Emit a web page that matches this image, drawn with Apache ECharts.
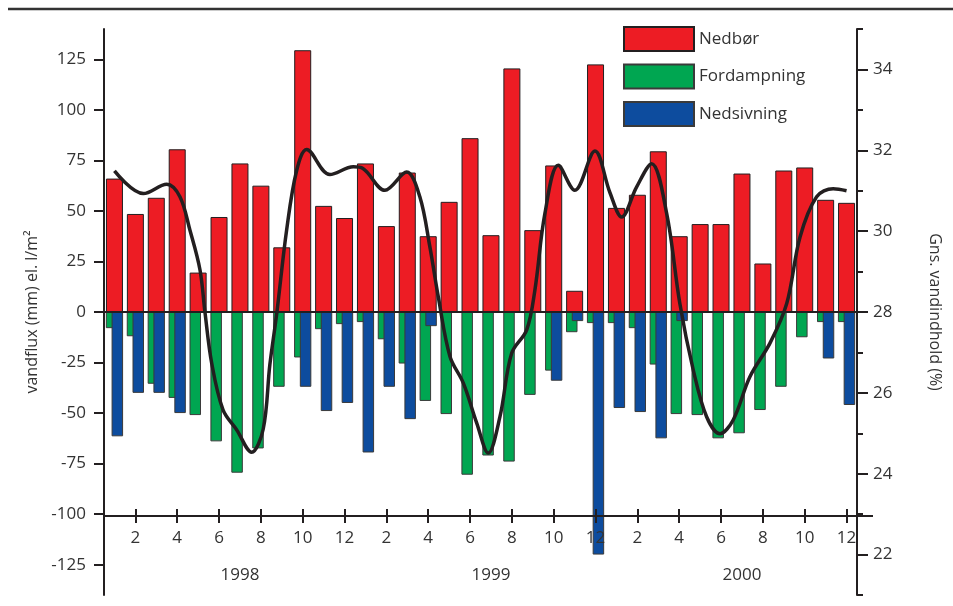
<!DOCTYPE html>
<html>
<head>
<meta charset="utf-8">
<script src="https://cdn.jsdelivr.net/npm/echarts@6/dist/echarts.min.js"></script>
<style>html,body{margin:0;padding:0;background:#fff;}#chart{width:953px;height:606px;}</style>
</head>
<body>
<div id="chart"></div>
<script>
const years = ['1998', '1999', '2000'];
const monthLabels = ['1','2','3','4','5','6','7','8','9','10','11','12'];
const categories = years.flatMap(y => monthLabels.map(m => y + '-' + m));
const monthAxisLabels = years.flatMap(() => monthLabels);

const leftTicks = [-125, -100, -75, -50, -25, 0, 25, 50, 75, 100, 125];
const rightMajorTicks = [22, 24, 26, 28, 30, 32, 34];
const rightMinorTicks = [21, 23, 25, 27, 29, 31, 33, 35];

const nedbor = [66, 48.5, 56.5, 80.5, 19.5, 47, 73.5, 62.5, 32, 129.5, 52.5, 46.5,
                73.5, 42.5, 69, 37.5, 54.5, 86, 38, 120.5, 40.5, 72.5, 10.5, 122.5,
                51.5, 58, 79.5, 37.5, 43.5, 43.5, 68.5, 24, 70, 71.5, 55.5, 54];
const fordampning = [-8, -12, -35.5, -42.5, -51, -64, -79.5, -67.5, -37, -22.5, -8.5, -6,
                     -5, -13.5, -25.5, -44, -50.5, -80.5, -71, -74, -41, -29, -10, -5.5,
                     -5.5, -8, -26, -50.5, -51, -62.5, -60, -48.5, -37, -12.5, -5, -5];
const nedsivning = [-61.5, -40, -40, -50, null, null, null, null, null, -37, -49, -45,
                    -69.5, -37, -53, -7, null, null, null, null, null, -34, -4.5, -120,
                    -47.5, -49.5, -62.5, -4.5, null, null, null, null, null, null, -23, -46];
// soil water content curve: [position in months from start, %]
const vandindhold = [
  [0.5, 31.49], [1.88, 30.93], [3.0, 31.16], [3.63, 30.85], [4.11, 30.02], [4.59, 29.04],
  [4.83, 27.98], [5.15, 26.73], [5.69, 25.58], [6.34, 25.09], [7.06, 24.53], [7.61, 25.1],
  [7.93, 26.7], [8.26, 27.97], [8.73, 30.02], [9.21, 31.5], [9.69, 32.02], [10.8, 31.4],
  [11.92, 31.59], [12.38, 31.55], [13.43, 31.01], [14.47, 31.46], [15.1, 30.85], [15.58, 29.61],
  [15.98, 28.38], [16.54, 26.9], [17.18, 26.24], [17.82, 25.25], [18.37, 24.51], [18.93, 25.41],
  [19.49, 26.98], [20.21, 27.56], [20.6, 28.54], [21.08, 30.44], [21.72, 31.63], [22.51, 31.01],
  [23.47, 31.98], [24.19, 30.95], [24.75, 30.35], [25.46, 31.09], [26.18, 31.67], [26.9, 30.44],
  [27.53, 28.21], [28.17, 26.57], [28.81, 25.41], [29.45, 24.99], [30.08, 25.33], [30.88, 26.4],
  [31.84, 27.23], [32.64, 28.21], [33.28, 29.86], [34.07, 30.85], [34.86, 31.05], [35.5, 31.0]
];

const FONT = '"Open Sans", "Noto Sans", sans-serif';
const TXT = '#333333';
const INK = '#231f20';

const chart = echarts.init(document.getElementById('chart'), null, {renderer: 'canvas'});
chart.setOption({
  animation: false,
  backgroundColor: '#ffffff',
  textStyle: {fontFamily: FONT, color: TXT},
  graphic: [
    {type: 'line', shape: {x1: 8, y1: 9, x2: 953, y2: 9}, style: {stroke: '#333', lineWidth: 2.5}},
    {type: 'line', shape: {x1: 857, y1: 516, x2: 873, y2: 516}, style: {stroke: INK, lineWidth: 2}}
  ],
  legend: {
    orient: 'vertical', left: 618, top: 21,
    itemWidth: 70, itemHeight: 24, itemGap: 11.5,
    icon: 'rect',
    textStyle: {fontSize: 17, color: TXT, fontFamily: FONT},
    data: ['Nedbør', 'Fordampning', 'Nedsivning']
  },
  grid: [
    {left: 104, right: 96, top: 29, bottom: 11},
    {left: 104, right: 96, top: 29, bottom: 90}
  ],
  xAxis: [
    {type: 'category', gridIndex: 0, data: categories,
     axisLine: {show: true, onZero: true, onZeroAxisIndex: 0, lineStyle: {color: INK, width: 2}},
     axisTick: {show: false}, axisLabel: {show: false}, splitLine: {show: false}, z: 5},
    {type: 'category', gridIndex: 0, data: categories, show: false, axisLine: {onZero: false}},
    {type: 'value', gridIndex: 0, min: 0, max: 36, show: false, axisLine: {onZero: false}},
    {type: 'category', gridIndex: 1, data: categories, position: 'bottom', z: 20,
     axisLine: {show: true, onZero: false, lineStyle: {color: INK, width: 2}},
     axisTick: {show: true, alignWithLabel: true, length: 7, interval: (i) => i % 2 === 1,
                lineStyle: {color: INK, width: 2}},
     axisLabel: {show: true, interval: (i) => i % 2 === 1, margin: 14, fontSize: 17, color: TXT,
                 fontFamily: FONT, formatter: (v, i) => monthAxisLabels[i]}},
    {type: 'category', gridIndex: 1, data: categories, position: 'bottom', z: 20,
     axisLine: {show: false, onZero: false},
     axisTick: {show: true, inside: true, alignWithLabel: true, length: 7, interval: (i) => i % 2 === 1,
                lineStyle: {color: INK, width: 2}},
     axisLabel: {show: false}},
    {type: 'category', gridIndex: 1, data: categories, position: 'bottom', z: 20,
     axisLine: {show: false, onZero: false}, axisTick: {show: false},
     axisLabel: {show: true, interval: 0, margin: 51, fontSize: 17, color: TXT, fontFamily: FONT,
                 formatter: (v, i) => (i % 12 === 6 ? years[Math.floor(i / 12)] : '')}}
  ],
  yAxis: [
    {type: 'value', gridIndex: 0, position: 'left', min: -140, max: 140,
     name: 'vandflux (mm) el. l/m²', nameLocation: 'middle', nameRotate: 90, nameGap: 63,
     nameTextStyle: {fontSize: 16, color: TXT, fontFamily: FONT},
     axisLine: {show: true, onZero: false, lineStyle: {color: INK, width: 2}},
     axisTick: {show: true, length: 10, customValues: leftTicks, lineStyle: {color: INK, width: 2}},
     axisLabel: {show: true, customValues: leftTicks, margin: 18, fontSize: 17, color: TXT, fontFamily: FONT},
     splitLine: {show: false}},
    {type: 'value', gridIndex: 0, position: 'right', min: 21, max: 35,
     name: 'Gns. vandindhold (%)', nameLocation: 'middle', nameRotate: -90, nameGap: 70,
     nameTextStyle: {fontSize: 16, color: TXT, fontFamily: FONT},
     axisLine: {show: true, onZero: false, lineStyle: {color: INK, width: 2}},
     axisTick: {show: true, length: 11, customValues: rightMajorTicks, lineStyle: {color: INK, width: 2}},
     axisLabel: {show: true, customValues: rightMajorTicks, margin: 16, fontSize: 17, color: TXT, fontFamily: FONT},
     splitLine: {show: false}},
    {type: 'value', gridIndex: 0, position: 'right', offset: 0, min: 21, max: 35,
     axisLine: {show: false, onZero: false},
     axisTick: {show: true, length: 6, customValues: rightMinorTicks, lineStyle: {color: INK, width: 2}},
     axisLabel: {show: false}, splitLine: {show: false}},
    {type: 'value', gridIndex: 1, min: 0, max: 1, show: false, axisLine: {onZero: false}}
  ],
  series: [
    {name: 'Nedbør', type: 'bar', xAxisIndex: 0, yAxisIndex: 0, data: nedbor, barWidth: 17,
     itemStyle: {color: '#ed1c24', borderColor: '#231f20', borderWidth: 1}, z: 2},
    {name: 'Fordampning', type: 'bar', xAxisIndex: 1, yAxisIndex: 0, data: fordampning, barWidth: 11.5,
     barGap: '-50%', itemStyle: {color: '#00a651', borderColor: '#3a3a3a', borderWidth: 1}, z: 2},
    {name: 'Nedsivning', type: 'bar', xAxisIndex: 1, yAxisIndex: 0, data: nedsivning, barWidth: 11.5,
     barGap: '-50%', itemStyle: {color: '#0d4c9e', borderColor: '#3a3a3a', borderWidth: 1}, z: 3},
    {name: 'Vandindhold', type: 'line', xAxisIndex: 2, yAxisIndex: 1, data: vandindhold,
     smooth: 0.35, showSymbol: false, symbol: 'none',
     lineStyle: {color: INK, width: 3.5}, z: 10}
  ]
});
</script>
</body>
</html>
